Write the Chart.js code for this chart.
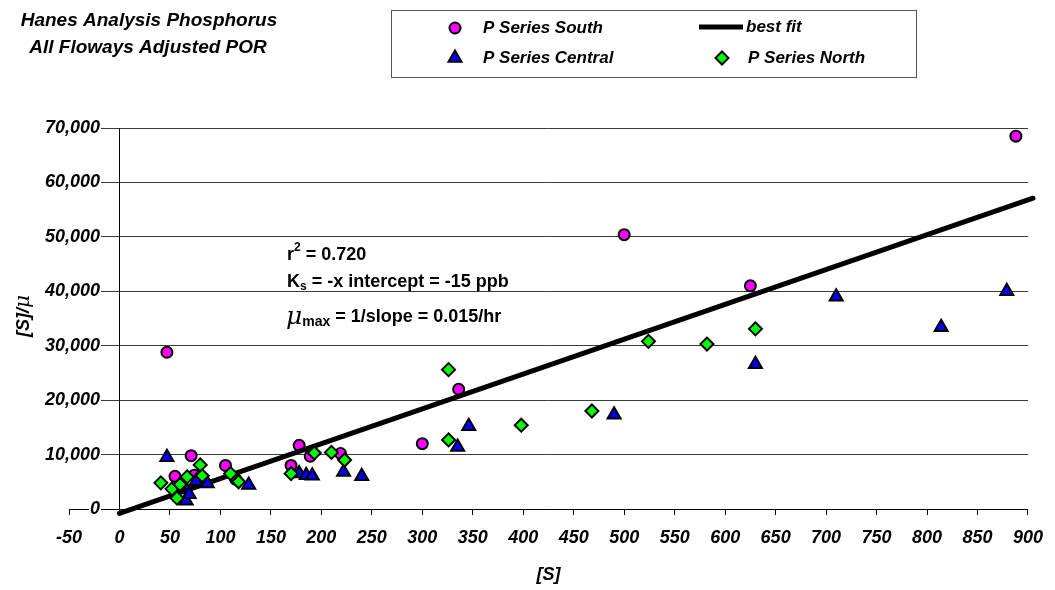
<!DOCTYPE html>
<html>
<head>
<meta charset="utf-8">
<title>Hanes Analysis Phosphorus</title>
<script src="https://cdn.jsdelivr.net/npm/chart.js@4.4.1/dist/chart.umd.min.js"></script>
<style>
  html, body { margin: 0; padding: 0; background: #fff; }
  canvas { display: block; }
</style>
</head>
<body>
<canvas id="chart" width="1055" height="590"></canvas>
<script>
/* Hanes plot, all floways: [S]/mu against [S], one series per flow-way plus
   the fitted line. */
(function () {
    "use strict";

    var southX = [47, 55, 71, 74, 105, 115, 170, 178, 189, 219, 300, 336, 500, 625, 888];
    var southY = [28800, 6000, 9800, 6200, 8000, 5500, 8000, 11700, 9700, 10200, 12000, 22000, 50400, 41000, 68500];

    var centralX = [47, 64, 66, 69, 76, 87, 128, 178, 185, 191, 222, 240, 335, 346, 490, 630, 710, 814, 879];
    var centralY = [9500, 4300, 1500, 2700, 5100, 4700, 4400, 6500, 6200, 6100, 6800, 6000, 11400, 15200, 17300, 26600, 39000, 33400, 40000];

    var northX = [41, 52, 57, 60, 67, 80, 82, 110, 118, 170, 193, 210, 223, 326, 326, 398, 468, 524, 582, 630];
    var northY = [4800, 3700, 2000, 4500, 5900, 8100, 6100, 6500, 5000, 6500, 10300, 10400, 9000, 25600, 12700, 15400, 18000, 30800, 30300, 33100];

    // ends of the best fit line as drawn
    var fitX = [0, 905];
    var fitY = [-800, 57100];

    var titleLines = ["Hanes Analysis Phosphorus", "All Floways Adjusted POR"];

    function points(xs, ys) {
        return xs.map(function (x, i) {
            return { x: x, y: ys[i] };
        });
    }

    var FONT = "'Liberation Sans', Arial, sans-serif";
    var tickFont = { family: FONT, size: 18, weight: "bold", style: "italic" };

    var series = {
        south: { pointStyle: "circle", radius: 5.5, color: "#FF00FF" },
        central: { pointStyle: "triangle", radius: 7.5, color: "#0000FF" },
        north: { pointStyle: "rectRot", radius: 6.5, color: "#00FF00" }
    };

    function markerSet(label, data, s, order) {
        return {
            label: label,
            data: data,
            order: order,
            pointStyle: s.pointStyle,
            pointRadius: s.radius,
            pointBackgroundColor: s.color,
            pointBorderColor: "#000",
            pointBorderWidth: 2,
            showLine: false
        };
    }

    function drawParts(ctx, x, y, parts) {
        parts.forEach(function (p) {
            ctx.font = p.font;
            ctx.fillText(p.text, x, y + (p.dy || 0));
            x += ctx.measureText(p.text).width;
        });
        return x;
    }

    function marker(ctx, s, x, y) {
        ctx.fillStyle = s.color;
        ctx.strokeStyle = "#000";
        ctx.lineWidth = 2;
        Chart.helpers.drawPoint(ctx, { pointStyle: s.pointStyle, radius: s.radius, rotation: 0, borderWidth: 2 }, x, y);
    }

    var decorations = {
        id: "decorations",
        afterDraw: function (chart) {
            var ctx = chart.ctx;
            ctx.save();
            ctx.textBaseline = "middle";

            // value axis labels sit left of the axis that crosses at x = 0,
            // on a white patch over the gridlines
            var ys = chart.scales.y;
            ctx.font = "italic bold 18px " + FONT;
            ctx.textAlign = "right";
            ys.ticks.forEach(function (t) {
                var py = ys.getPixelForValue(t.value);
                var label = t.value.toLocaleString("en-US");
                var w = ctx.measureText(label).width;
                ctx.fillStyle = "#fff";
                ctx.fillRect(100 - w - 1, py - 8, w + 2, 16);
                ctx.fillStyle = "#000";
                ctx.fillText(label, 100, py);
            });

            // title, top left
            ctx.fillStyle = "#000";
            ctx.textAlign = "center";
            ctx.font = "italic bold 19px " + FONT;
            ctx.fillText(titleLines[0], 149, 21);
            ctx.fillText(titleLines[1], 148, 48);

            // legend box
            ctx.textAlign = "left";
            ctx.strokeStyle = "#555";
            ctx.lineWidth = 1;
            ctx.strokeRect(391.5, 10.5, 525, 67);
            marker(ctx, series.south, 455, 28);
            marker(ctx, series.central, 455, 58);
            marker(ctx, series.north, 722, 58);
            ctx.strokeStyle = "#000";
            ctx.lineWidth = 5;
            ctx.beginPath();
            ctx.moveTo(699, 27);
            ctx.lineTo(743, 27);
            ctx.stroke();
            ctx.fillStyle = "#000";
            ctx.font = "italic bold 17px " + FONT;
            ctx.fillText("P Series South", 483, 28);
            ctx.fillText("best fit", 746, 27);
            ctx.fillText("P Series Central", 483, 58);
            ctx.fillText("P Series North", 748, 58);

            // fit statistics
            var b = "bold 18px " + FONT;
            var small = "bold 12px " + FONT;
            drawParts(ctx, 287, 255, [
                { text: "r", font: b },
                { text: "2", font: small, dy: -7 },
                { text: " = 0.720", font: b }
            ]);
            drawParts(ctx, 287, 282, [
                { text: "K", font: b },
                { text: "s", font: small, dy: 5 },
                { text: " = -x intercept = -15 ppb", font: b }
            ]);
            drawParts(ctx, 286, 317, [
                { text: "\u03bc", font: "italic 25px 'DejaVu Serif', serif" },
                { text: "max", font: "bold 14px " + FONT, dy: 5 },
                { text: " = 1/slope = 0.015/hr", font: b }
            ]);

            // y axis title, rotated
            ctx.translate(24, 316);
            ctx.rotate(-Math.PI / 2);
            var parts = [
                { text: "[S]/", font: "italic bold 18px " + FONT },
                { text: "\u03bc", font: "italic 20px 'DejaVu Serif', serif" }
            ];
            var w = 0;
            parts.forEach(function (p) {
                ctx.font = p.font;
                w += ctx.measureText(p.text).width;
            });
            drawParts(ctx, -w / 2, 0, parts);
            ctx.restore();
        }
    };

    new Chart(document.getElementById("chart"), {
        type: "scatter",
        data: {
            datasets: [
                markerSet("P Series South", points(southX, southY), series.south, 3),
                {
                    type: "line",
                    label: "best fit",
                    data: points(fitX, fitY),
                    order: 2,
                    borderColor: "#000",
                    borderWidth: 5,
                    borderCapStyle: "round",
                    pointRadius: 0,
                    clip: 8
                },
                markerSet("P Series Central", points(centralX, centralY), series.central, 1),
                markerSet("P Series North", points(northX, northY), series.north, 0)
            ]
        },
        options: {
            responsive: false,
            animation: false,
            layout: { padding: { left: 69, right: 23, top: 128, bottom: 0 } },
            plugins: {
                legend: { display: false },
                tooltip: { enabled: false }
            },
            scales: {
                x: {
                    type: "linear",
                    position: "bottom",
                    min: -50,
                    max: 900,
                    afterFit: function (scale) {
                        scale.height = 81;
                    },
                    ticks: {
                        stepSize: 50,
                        autoSkip: false,
                        maxRotation: 0,
                        padding: 12,
                        color: "#000",
                        font: tickFont
                    },
                    grid: { drawOnChartArea: false, tickLength: 6, color: "#000" },
                    border: { color: "#000", width: 1 },
                    title: {
                        display: true,
                        text: "[S]",
                        color: "#000",
                        font: tickFont,
                        padding: { top: 2, bottom: 4 }
                    }
                },
                y: {
                    type: "linear",
                    position: { x: 0 },
                    min: 0,
                    max: 70000,
                    ticks: { stepSize: 10000, display: false },
                    grid: { color: "#3a3a3a", drawTicks: false },
                    border: { color: "#000", width: 1 }
                }
            }
        },
        plugins: [decorations]
    });
})();
</script>
</body>
</html>
